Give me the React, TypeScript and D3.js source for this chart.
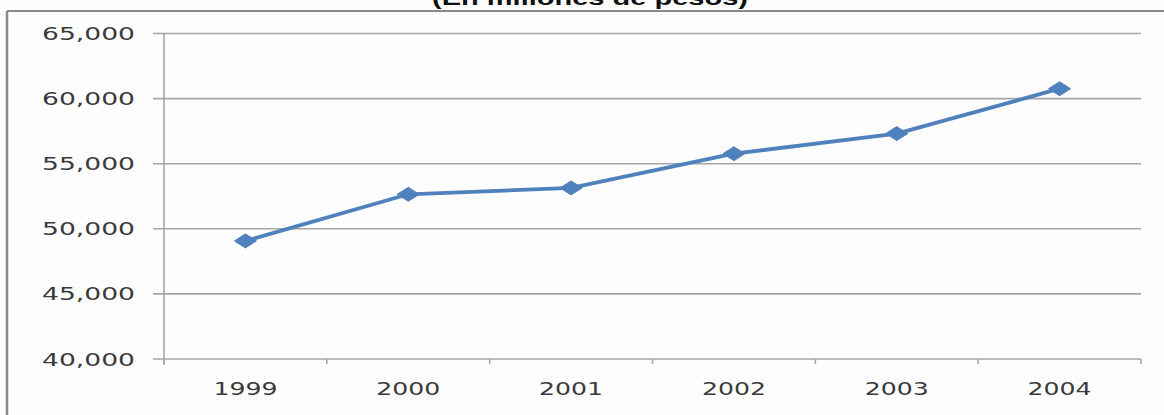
import React from "react";
import * as d3 from "d3";

const years = ["1999", "2000", "2001", "2002", "2003", "2004"];
const values = [49070, 52650, 53140, 55770, 57310, 60760];
const yTicks = [40000, 45000, 50000, 55000, 60000, 65000];
const title = "(En millones de pesos)";

export default function App() {
  const W = 1164, H = 415;
  const left = 164, right = 1141, top = 33.5, bottom = 359;
  const x = d3.scaleBand<string>().domain(years).range([left, right]).padding(0);
  const y = d3.scaleLinear().domain([40000, 65000]).range([bottom, top]);
  const cx = (d: string) => (x(d) as number) + x.bandwidth() / 2;
  const line = d3.line<number>().x((_, i) => cx(years[i])).y((v) => y(v));
  const fmt = d3.format(",");
  const textColor = "#3a3a3a";
  const gridColor = "#a6a6a6";
  const blue = "#4f81bd";
  const diamond = (px: number, py: number) => `M${px - 11},${py}L${px},${py - 7}L${px + 11},${py}L${px},${py + 7}Z`;
  const bandEdges = years.map((d) => x(d) as number).concat([right]);

  return (
    <svg width={W} height={H} style={{ position: "absolute", left: 0, top: 0, background: "#fdfdfd" }}>
      <rect x={0} y={0} width={W} height={H} fill="#fdfdfd" />
      <text x={590} y={5} textAnchor="middle" fontFamily="Liberation Sans, Arial, sans-serif" fontWeight="bold" fontSize={21} textLength={316} lengthAdjust="spacingAndGlyphs" fill="#111">{title}</text>
      <line x1={7} y1={11} x2={W} y2={11} stroke="#8a8a8a" strokeWidth={2} />
      <line x1={7} y1={11} x2={7} y2={H} stroke="#8a8a8a" strokeWidth={2.5} />
      {yTicks.map((t) => (
        <g key={t}>
          <line x1={153} x2={right} y1={y(t)} y2={y(t)} stroke={gridColor} strokeWidth={1.6} />
          <text x={135} y={y(t) + 6.5} textAnchor="end" fontFamily="DejaVu Sans, Verdana, sans-serif" fontSize={17} textLength={93} lengthAdjust="spacingAndGlyphs" fill={textColor}>{fmt(t)}</text>
        </g>
      ))}
      <line x1={left} x2={left} y1={top} y2={bottom + 6} stroke={gridColor} strokeWidth={1.6} />
      {bandEdges.map((e, i) => (
        <line key={i} x1={e} x2={e} y1={bottom} y2={bottom + 5} stroke={gridColor} strokeWidth={1.6} />
      ))}
      {years.map((d) => (
        <text key={d} x={cx(d)} y={395} textAnchor="middle" fontFamily="DejaVu Sans, Verdana, sans-serif" fontSize={17} textLength={64} lengthAdjust="spacingAndGlyphs" fill={textColor}>{d}</text>
      ))}
      <path d={line(values) || ""} fill="none" stroke={blue} strokeWidth={3.8} strokeLinejoin="round" />
      {values.map((v, i) => (
        <path key={i} d={diamond(cx(years[i]), y(v))} fill={blue} stroke={blue} strokeWidth={1} />
      ))}
    </svg>
  );
}
